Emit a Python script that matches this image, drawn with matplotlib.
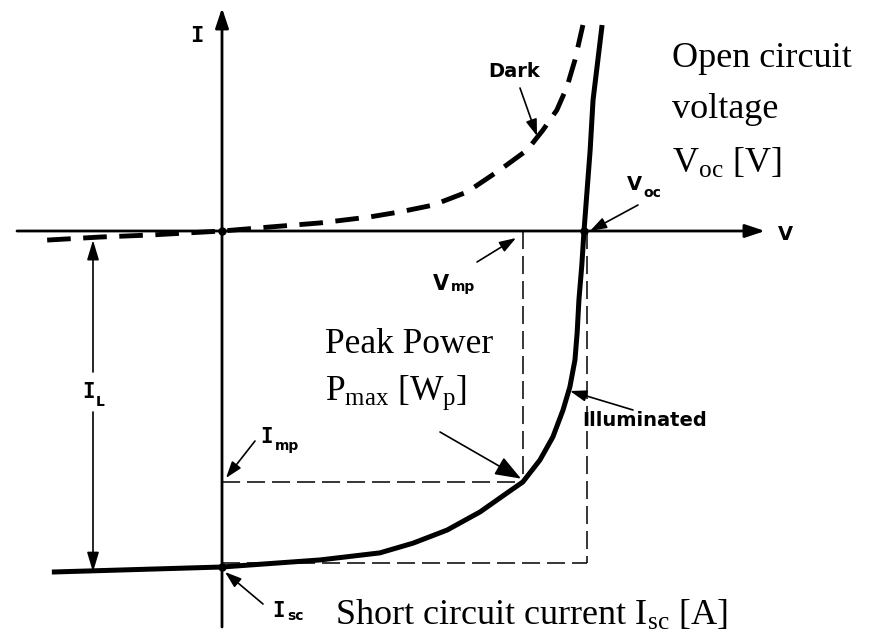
import matplotlib
matplotlib.use("Agg")
import matplotlib.pyplot as plt

plt.rcParams['mathtext.fontset'] = 'custom'
plt.rcParams['mathtext.rm'] = 'Liberation Serif'
plt.rcParams['mathtext.it'] = 'Liberation Serif:italic'
plt.rcParams['lines.scale_dashes'] = False

# ---- data (V normalised to Voc, I normalised to Isc) ----
illum_v = [-0.470, 0.0, 0.271, 0.436, 0.528, 0.622, 0.713, 0.787, 0.831, 0.878,
           0.914, 0.942, 0.961, 0.975, 0.981, 0.986, 0.994, 1.0, 1.017, 1.025, 1.050]
illum_i = [-1.015, -1.0, -0.979, -0.958, -0.929, -0.890, -0.836, -0.780, -0.747, -0.682,
           -0.613, -0.533, -0.464, -0.384, -0.304, -0.205, -0.101, 0.0, 0.241, 0.390, 0.613]
dark_v = [-0.483, -0.337, -0.199, 0.0, 0.133, 0.271, 0.409, 0.492, 0.583, 0.677,
          0.768, 0.843, 0.887, 0.925, 0.953, 0.975, 0.997]
dark_i = [-0.027, -0.018, -0.012, 0.0, 0.012, 0.024, 0.042, 0.057, 0.077, 0.116,
          0.182, 0.241, 0.301, 0.360, 0.429, 0.509, 0.613]
voc = 1.0
isc = -1.0
vmp = 0.831
imp = -0.747
box_v = 1.008
box_i = -0.988

# ---- layout helper: pixel position -> data coords ----
OX, OY, SX, SY = 222, 231, 362, 336
def P(x, y):
    return ((x - OX) / SX, (OY - y) / SY)

fig = plt.figure(figsize=(8.77, 6.35), dpi=100)
ax = fig.add_axes([0, 0, 1, 1])
ax.set_xlim(P(0, 0)[0], P(877, 0)[0])
ax.set_ylim(P(0, 635)[1], P(0, 0)[1])
ax.axis('off')

K = 'black'
axis_arrow = dict(arrowstyle='-|>,head_length=0.6,head_width=0.2', lw=2.0,
                  color=K, mutation_scale=20, shrinkA=0, shrinkB=0)
# axes
ax.annotate('', xy=P(765, 231), xytext=P(17, 231), arrowprops=axis_arrow)
ax.annotate('', xy=P(222, 8), xytext=P(222, 627), arrowprops=axis_arrow)

# thin dashed construction lines
dkw = dict(color=K, lw=1.1, dashes=(13, 5))
ax.plot([vmp, vmp], [0, imp], **dkw)
ax.plot([0, vmp], [imp, imp], **dkw)
ax.plot([box_v, box_v], [0, box_i], **dkw)
ax.plot([0, box_v], [box_i, box_i], **dkw)

# curves
ax.plot(dark_v, dark_i, color=K, lw=3.5, dashes=(17, 9), solid_joinstyle='round',
        dash_joinstyle='round')
ax.plot(illum_v, illum_i, color=K, lw=3.6, solid_joinstyle='round', solid_capstyle='butt')

# dots
ax.plot([0, voc, 0], [0, 0, isc], 'o', color=K, ms=5)

# IL double arrow
il_arrow = dict(arrowstyle='-|>,head_length=0.6,head_width=0.18', lw=1.2,
                color=K, mutation_scale=20, shrinkA=0, shrinkB=0)
ax.annotate('', xy=(P(93, 0)[0], dark_i[0]), xytext=P(93, 372), arrowprops=il_arrow)
ax.annotate('', xy=(P(93, 0)[0], illum_i[0]), xytext=P(93, 412), arrowprops=il_arrow)

# pointer arrows
def pointer(tail, head, hl=0.5, hw=0.17):
    ax.annotate('', xy=head, xytext=tail,
                arrowprops=dict(arrowstyle=f'-|>,head_length={hl},head_width={hw}',
                                lw=1.2, color=K, mutation_scale=20,
                                shrinkA=0, shrinkB=0))

pointer(P(520, 88), P(537, 136))
pointer(P(638, 205), P(590, 231))
pointer(P(477, 262), P(516, 238))
pointer(P(255, 441), P(226, 478))
pointer(P(263, 604), P(225, 572))
pointer(P(440, 432), (vmp - 0.005, imp + 0.01), hl=0.8, hw=0.3)
pointer(P(633, 410), P(570, 391))

# sans labels
SANS = 'DejaVu Sans'
MONO = 'DejaVu Sans Mono'
def txt(xy, s, size=14, family=SANS, weight='bold'):
    ax.text(*P(*xy), s, fontsize=size, family=family, weight=weight,
            ha='left', va='baseline', color=K)

txt((190, 42), 'I', size=16, family=MONO)
txt((778, 240), 'V', size=14)
txt((488, 77), 'Dark', size=14)
txt((627, 190), 'V', size=14)
txt((643, 197), 'oc', size=10)
txt((433, 290), 'V', size=15)
txt((451, 291), 'mp', size=10)
txt((82, 398), 'I', size=15, family=MONO)
txt((96, 406), 'L', size=10)
txt((260, 443), 'I', size=15, family=MONO)
txt((275, 450), 'mp', size=10)
txt((272, 617), 'I', size=15, family=MONO)
txt((287, 620), 'sc', size=10)
txt((582, 426), 'Illuminated', size=14)

# serif labels
SERIF = 'Liberation Serif'
def stxt(xy, s, size=26):
    ax.text(*P(*xy), s, fontsize=size, family=SERIF, ha='left', va='baseline', color=K)

stxt((672, 67), 'Open circuit')
stxt((672, 118), 'voltage')
stxt((672, 173), r'V$_{\mathrm{oc}}$ [V]')
stxt((325, 353), 'Peak Power', size=25.5)
stxt((325, 400), r'P$_{\mathrm{max}}$ [W$_{\mathrm{p}}$]', size=25.5)
stxt((335, 625), r'Short circuit current I$_{\mathrm{sc}}$ [A]')

fig.savefig('out.png', dpi=100)
